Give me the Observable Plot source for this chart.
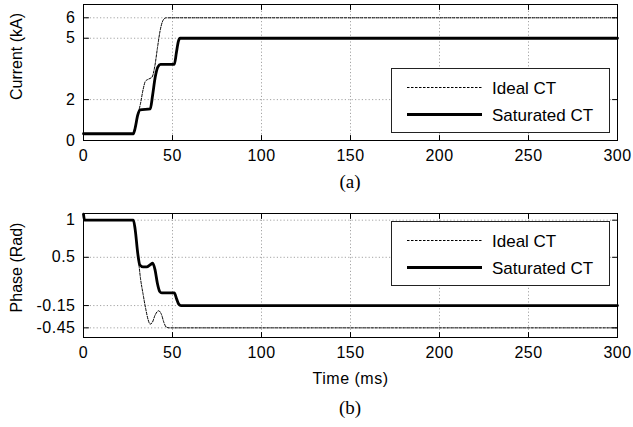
<!DOCTYPE html>
<html>
<head>
<meta charset="utf-8">
<script src="https://cdn.jsdelivr.net/npm/d3@7"></script>
<script src="https://cdn.jsdelivr.net/npm/@observablehq/plot@0.6"></script>
<style>
  html, body { margin: 0; padding: 0; background: #fff; }
  #fig { position: relative; width: 633px; height: 427px; background: #fff; overflow: hidden; }
  #fig > .chart { position: absolute; left: 0; }
  .cap { position: absolute; font-family: "Liberation Serif", serif; font-size: 19px; text-align: center; color: #000; }
  .legend { position: absolute; }
</style>
</head>
<body>
<div id="fig"></div>
<script>
// ---------- data ----------
const xTicks = [0, 50, 100, 150, 200, 250, 300];
const xDomain = [0, 300];

// (a) current
const currentTicks = [0, 2, 5, 6];
const currentDomain = [0, 6.65];
const tIdealCurrent   = [0, 28, 29, 30.5, 32, 33.5, 34.8, 36.5, 38.5, 40, 41.5, 43, 44.3, 45.3, 46.5, 48, 300];
const idealCurrent    = [0.33, 0.33, 0.6, 1.25, 1.8, 2.5, 2.9, 3.0, 3.1, 3.6, 4.5, 5.35, 5.8, 5.95, 6.0, 6.0, 6.0];
const tSatCurrent     = [0, 28, 29, 30.5, 31.8, 37.5, 38.8, 40.3, 41.8, 43.3, 51, 52.2, 53.3, 54.3, 55.5, 300];
const satCurrent      = [0.33, 0.33, 0.6, 1.25, 1.5, 1.55, 2.2, 3.1, 3.6, 3.72, 3.72, 4.3, 4.85, 5.0, 5.0, 5.0];

// (b) phase
const phaseTicks = [-0.45, -0.15, 0.5, 1];
const phaseDomain = [-0.58, 1.09];
const tIdealPhase  = [0, 0.6, 28, 29, 30.5, 32, 33.5, 35, 36.3, 37.4, 38.6, 40.2, 42.2, 43.8, 45.2, 46.5, 48, 300];
const idealPhase   = [1.08, 1.0, 1.0, 0.88, 0.55, 0.22, 0.0, -0.2, -0.34, -0.40, -0.38, -0.28, -0.22, -0.27, -0.38, -0.44, -0.45, -0.45];
const tSatPhase    = [0, 0.6, 28, 29, 30.5, 31.6, 33.5, 35.5, 37.5, 38.9, 40.2, 41.5, 42.8, 44, 51, 52.3, 53.5, 54.8, 300];
const satPhase     = [1.08, 1.0, 1.0, 0.88, 0.55, 0.40, 0.37, 0.37, 0.40, 0.42, 0.33, 0.15, 0.04, 0.02, 0.02, -0.06, -0.13, -0.15, -0.15];

const seriesNames = ["Ideal CT", "Saturated CT"];
const captions = ["(a)", "(b)"];
const yLabels = ["Current (kA)", "Phase (Rad)"];
const xLabel = "Time (ms)";

// ---------- helpers ----------
const zip = (t, v) => t.map((x, i) => ({x, y: v[i]}));
const tickShape = { draw(ctx, l) { ctx.moveTo(0, 0); ctx.lineTo(0, -l); } };
const FONT = "Liberation Sans, Arial, sans-serif";

function inwardTicks(xd, yd, yt) {
  const common = {length: 5, anchor: "start", shape: tickShape, stroke: "black", strokeWidth: 1};
  return [
    Plot.vector(xTicks, {...common, x: d => d, y: () => yd[0], rotate: 0}),
    Plot.vector(xTicks, {...common, x: d => d, y: () => yd[1], rotate: 180}),
    Plot.vector(yt, {...common, x: () => xd[0], y: d => d, rotate: 90}),
    Plot.vector(yt, {...common, x: () => xd[1], y: d => d, rotate: 270})
  ];
}

function chart({height, marginTop, marginBottom, yDomain, yTicks, ideal, sat, yLabel, yLabelDy, withXLabel}) {
  const grid = {stroke: "#9a9a9a", strokeOpacity: 1, strokeDasharray: "1.2,2.2", strokeWidth: 0.9};
  return Plot.plot({
    width: 633, height,
    marginLeft: 83, marginRight: 16, marginTop, marginBottom,
    style: {fontFamily: FONT, fontSize: "16px", color: "#000", background: "#fff", overflow: "visible"},
    x: {domain: xDomain},
    y: {domain: yDomain},
    marks: [
      Plot.gridX(xTicks, grid),
      Plot.gridY(yTicks, grid),
      Plot.line(ideal, {x: "x", y: "y", curve: "monotone-x", stroke: "black", strokeWidth: 1, strokeDasharray: "2.5,1.5"}),
      Plot.line(sat, {x: "x", y: "y", curve: "monotone-x", stroke: "black", strokeWidth: 2.8}),
      ...inwardTicks(xDomain, yDomain, yTicks),
      Plot.frame({stroke: "black", strokeWidth: 1}),
      Plot.axisX(xTicks, {tickSize: 0, tickPadding: 9, fontSize: 16, tickFormat: d => String(d),
        label: withXLabel ? xLabel : null, labelAnchor: "center", labelOffset: 46, labelArrow: "none"}),
      Plot.axisY(yTicks, {tickSize: 0, tickPadding: 8, fontSize: 16, tickFormat: d => String(d), label: null}),
      Plot.text([yLabel], {text: d => d, frameAnchor: "left", textAnchor: "middle", lineAnchor: "middle",
        rotate: -90, dx: -67, dy: yLabelDy, fontSize: 16})
    ]
  });
}

const fig = document.getElementById("fig");

const a = chart({height: 165, marginTop: 4, marginBottom: 25, yDomain: currentDomain, yTicks: currentTicks,
  ideal: zip(tIdealCurrent, idealCurrent), sat: zip(tSatCurrent, satCurrent), yLabel: yLabels[0], yLabelDy: -16, withXLabel: false});
a.classList.add("chart"); a.style.top = "0px";
fig.appendChild(a);

const b = chart({height: 190, marginTop: 13, marginBottom: 53, yDomain: phaseDomain, yTicks: phaseTicks,
  ideal: zip(tIdealPhase, idealPhase), sat: zip(tSatPhase, satPhase), yLabel: yLabels[1], yLabelDy: -8, withXLabel: true});
b.classList.add("chart"); b.style.top = "200px";
fig.appendChild(b);

// slight letter spacing on horizontal texts to mimic the wide original lettering
for (const svg of [a, b]) {
  svg.querySelectorAll("text").forEach(t => {
    const tr = t.getAttribute("transform") || "";
    if (!/rotate/.test(tr)) t.style.letterSpacing = "0.5px";
  });
}

// captions
function caption(text, top) {
  const d = document.createElement("div");
  d.className = "cap";
  d.style.left = "83px"; d.style.width = "534px"; d.style.top = top + "px";
  d.textContent = text;
  fig.appendChild(d);
}
caption(captions[0], 171);
caption(captions[1], 397);

// legends
function legend(left, top) {
  const ns = "http://www.w3.org/2000/svg";
  const w = 219, h = 65;
  const s = document.createElementNS(ns, "svg");
  s.setAttribute("width", w); s.setAttribute("height", h);
  s.setAttribute("class", "legend");
  s.style.left = left + "px"; s.style.top = top + "px";
  s.innerHTML = `
    <rect x="0.5" y="0.5" width="${w - 1}" height="${h - 1}" fill="#fff" stroke="#222" stroke-width="1"/>
    <line x1="16" x2="91" y1="19.5" y2="19.5" stroke="#000" stroke-width="1" stroke-dasharray="2.5,1.5"/>
    <line x1="16" x2="91" y1="46.5" y2="46.5" stroke="#000" stroke-width="2.8"/>
    <text x="101" y="19.5" dy="0.36em" font-family="${FONT}" font-size="17">${seriesNames[0]}</text>
    <text x="101" y="46.5" dy="0.36em" font-family="${FONT}" font-size="17">${seriesNames[1]}</text>`;
  fig.appendChild(s);
}
legend(391, 68);
legend(391, 221);
</script>
</body>
</html>
